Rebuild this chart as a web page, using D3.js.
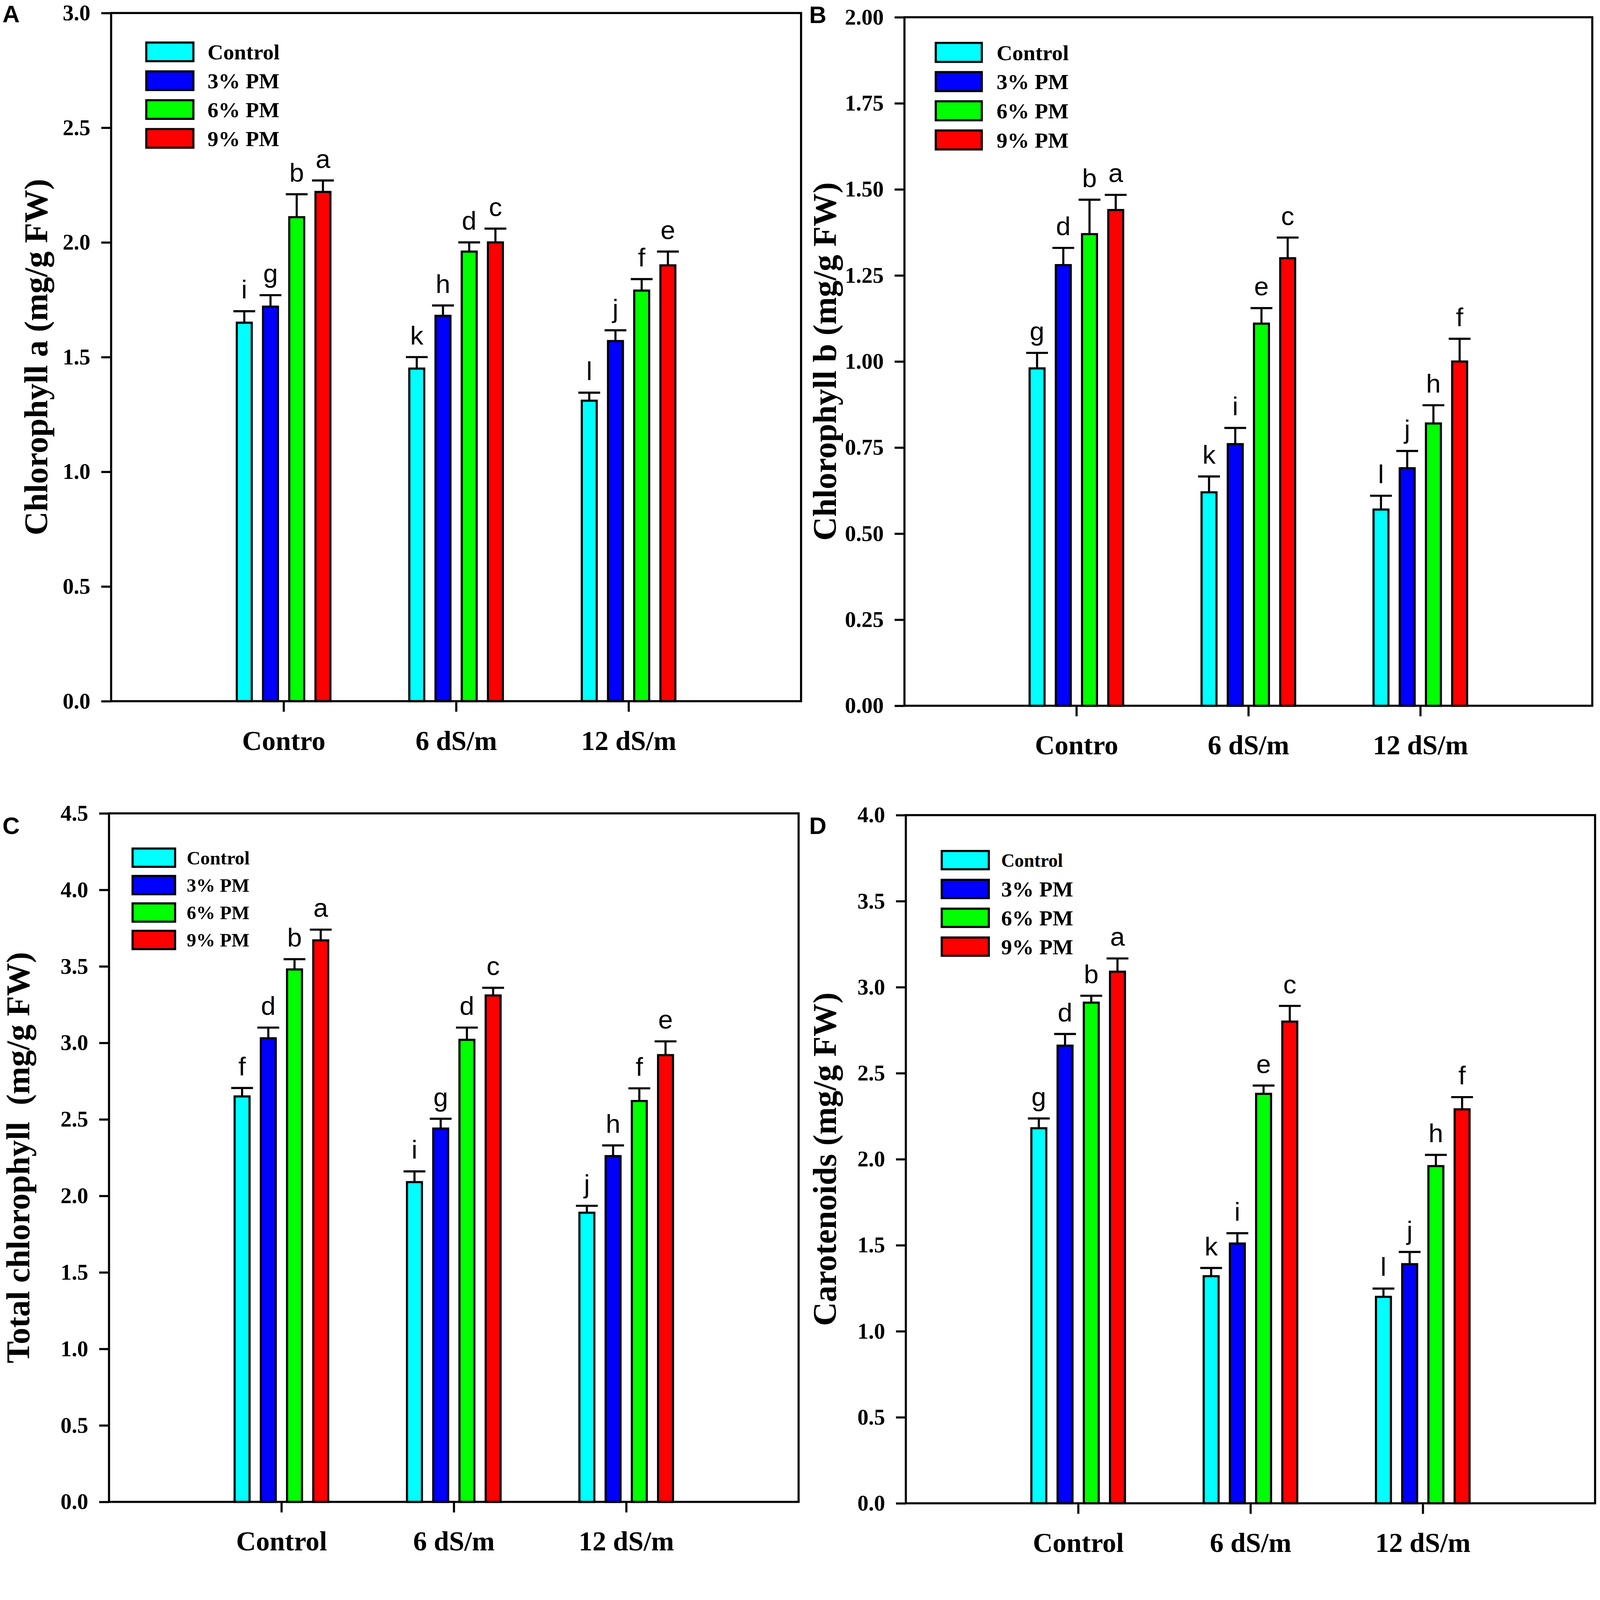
<!DOCTYPE html>
<html>
<head>
<meta charset="utf-8">
<script src="https://cdn.jsdelivr.net/npm/d3@7"></script>
<style>
  html, body { margin: 0; padding: 0; background: #fff; overflow: hidden; }
  #chart svg { display: block; }
</style>
</head>
<body>
<div id="chart"></div>
<script>
// series names and colours
const treatments = ["Control", "3% PM", "6% PM", "9% PM"];
const colors = ["#00FFFF", "#0000FF", "#00FF00", "#FF0000"];

// salinity groups (x categories)
const groupsTop = ["Contro", "6 dS/m", "12 dS/m"];
const groupsBottom = ["Control", "6 dS/m", "12 dS/m"];

// A - Chlorophyll a : means per group (Control, 3%, 6%, 9%)
const chlA = [[1.65, 1.72, 2.11, 2.22], [1.45, 1.68, 1.96, 2.00], [1.31, 1.57, 1.79, 1.90]];
const chlAErr = [[0.05, 0.05, 0.10, 0.05], [0.05, 0.045, 0.04, 0.06], [0.035, 0.047, 0.05, 0.06]];
const chlALetters = [["i", "g", "b", "a"], ["k", "h", "d", "c"], ["l", "j", "f", "e"]];
const chlATicks = [0, 0.5, 1.0, 1.5, 2.0, 2.5, 3.0];

// B - Chlorophyll b
const chlB = [[0.98, 1.28, 1.37, 1.44], [0.62, 0.76, 1.11, 1.30], [0.57, 0.69, 0.82, 1.00]];
const chlBErr = [[0.045, 0.05, 0.10, 0.044], [0.046, 0.047, 0.045, 0.06], [0.04, 0.05, 0.053, 0.066]];
const chlBLetters = [["g", "d", "b", "a"], ["k", "i", "e", "c"], ["l", "j", "h", "f"]];
const chlBTicks = [0, 0.25, 0.5, 0.75, 1.0, 1.25, 1.5, 1.75, 2.0];

// C - Total chlorophyll
const chlT = [[2.65, 3.03, 3.48, 3.67], [2.09, 2.44, 3.02, 3.31], [1.89, 2.26, 2.62, 2.92]];
const chlTErr = [[0.055, 0.07, 0.067, 0.07], [0.07, 0.064, 0.08, 0.05], [0.045, 0.07, 0.083, 0.09]];
const chlTLetters = [["f", "d", "b", "a"], ["i", "g", "d", "c"], ["j", "h", "f", "e"]];
const chlTTicks = [0, 0.5, 1.0, 1.5, 2.0, 2.5, 3.0, 3.5, 4.0, 4.5];

// D - Carotenoids
const carot = [[2.18, 2.66, 2.91, 3.09], [1.32, 1.51, 2.38, 2.80], [1.20, 1.39, 1.96, 2.29]];
const carotErr = [[0.057, 0.068, 0.04, 0.077], [0.048, 0.06, 0.048, 0.091], [0.048, 0.071, 0.065, 0.071]];
const carotLetters = [["g", "d", "b", "a"], ["k", "i", "e", "c"], ["l", "j", "h", "f"]];
const carotTicks = [0, 0.5, 1.0, 1.5, 2.0, 2.5, 3.0, 3.5, 4.0];

// layout (drawn in a 4550 x 4431 coordinate space, scaled to the window)
const W = 4550, H = 4431;
const serif = "'Times New Roman', 'Liberation Serif', serif";
const sans = "Arial, 'Liberation Sans', sans-serif";
const lw = 6;

const panels = [
  { tag: "A", tagX: 7, tagY: 63, box: [316, 37, 2278, 1994], means: chlA, errs: chlAErr, letters: chlALetters,
    ticks: chlATicks, fmt: ".1f", groups: groupsTop, title: "Chlorophyll a (mg/g FW)", titleX: 134,
    legend: { x: 416, y: 121, step: 82, w: 134, h: 53, tx: 590, fonts: [62, 62, 62, 62] } },
  { tag: "B", tagX: 2301, tagY: 66, box: [2572, 49, 4528, 2007], means: chlB, errs: chlBErr, letters: chlBLetters,
    ticks: chlBTicks, fmt: ".2f", groups: groupsTop, title: "Chlorophyll b (mg/g FW)", titleX: 2377,
    legend: { x: 2661, y: 122, step: 83, w: 131, h: 54, tx: 2834, fonts: [62, 62, 62, 62] } },
  { tag: "C", tagX: 7, tagY: 2372, box: [310, 2313, 2271, 4271], means: chlT, errs: chlTErr, letters: chlTLetters,
    ticks: chlTTicks, fmt: ".1f", groups: groupsBottom, title: "Total chlorophyll  (mg/g FW)", titleX: 83,
    legend: { x: 377, y: 2413, step: 78, w: 121, h: 52, tx: 531, fonts: [54, 54, 54, 54] } },
  { tag: "D", tagX: 2301, tagY: 2372, box: [2576, 2318, 4536, 4275], means: carot, errs: carotErr, letters: carotLetters,
    ticks: carotTicks, fmt: ".1f", groups: groupsBottom, title: "Carotenoids (mg/g FW)", titleX: 2377,
    legend: { x: 2678, y: 2420, step: 82, w: 134, h: 52, tx: 2847, fonts: [53, 62, 62, 62] } }
];

const svg = d3.select("#chart").append("svg")
  .attr("viewBox", `0 0 ${W} ${H}`)
  .attr("preserveAspectRatio", "xMinYMin meet")
  .style("width", "100vw")
  .style("height", "100vh")
  .style("background", "#fff");

panels.forEach(p => {
  const [x0, y0, x1, y1] = p.box;
  const g = svg.append("g");

  const y = d3.scaleLinear()
    .domain([0, d3.max(p.ticks)])
    .range([y1, y0]);

  // groups sit at 1/4, 2/4, 3/4 of the width
  const x = d3.scalePoint()
    .domain(p.groups)
    .range([x0, x1])
    .padding(1);

  const inner = d3.scaleBand()
    .domain(treatments)
    .range([-148, 148])
    .paddingInner(0.43)
    .paddingOuter(0.2);

  // axes
  const yAxis = g.append("g")
    .attr("transform", `translate(${x0},0)`)
    .call(d3.axisLeft(y).tickValues(p.ticks).tickFormat(d3.format(p.fmt)).tickSize(28).tickPadding(31));

  const xAxis = g.append("g")
    .attr("transform", `translate(0,${y1})`)
    .call(d3.axisBottom(x).tickSize(30).tickPadding(53));

  [yAxis, xAxis].forEach(a => {
    a.select(".domain").remove();
    a.selectAll(".tick line").attr("stroke", "#000").attr("stroke-width", lw);
    a.selectAll(".tick text")
      .attr("fill", "#000")
      .style("font-family", serif)
      .style("font-weight", "bold");
  });
  yAxis.selectAll(".tick text").style("font-size", "63px");
  xAxis.selectAll(".tick text").style("font-size", "78px");

  // bars
  const rows = [];
  p.means.forEach((vals, gi) => {
    vals.forEach((v, ti) => {
      rows.push({ group: p.groups[gi], t: treatments[ti], ti: ti, v: v, e: p.errs[gi][ti], letter: p.letters[gi][ti] });
    });
  });

  g.selectAll(".bar")
    .data(rows)
    .enter().append("rect")
    .attr("class", "bar")
    .attr("x", d => x(d.group) + inner(d.t))
    .attr("width", inner.bandwidth())
    .attr("y", d => y(d.v))
    .attr("height", d => y(0) - y(d.v))
    .attr("fill", d => colors[d.ti])
    .attr("stroke", "#000")
    .attr("stroke-width", lw);

  // one-sided error bars
  const cx = d => x(d.group) + inner(d.t) + inner.bandwidth() / 2;
  g.selectAll(".err")
    .data(rows)
    .enter().append("line")
    .attr("x1", cx).attr("x2", cx)
    .attr("y1", d => y(d.v)).attr("y2", d => y(d.v + d.e))
    .attr("stroke", "#000").attr("stroke-width", lw);

  g.selectAll(".cap")
    .data(rows)
    .enter().append("line")
    .attr("x1", d => cx(d) - 31).attr("x2", d => cx(d) + 31)
    .attr("y1", d => y(d.v + d.e)).attr("y2", d => y(d.v + d.e))
    .attr("stroke", "#000").attr("stroke-width", lw);

  // significance letters
  g.selectAll(".letter")
    .data(rows)
    .enter().append("text")
    .attr("x", cx)
    .attr("y", d => y(d.v + d.e) - 36)
    .attr("text-anchor", "middle")
    .style("font-family", sans)
    .style("font-size", "75px")
    .text(d => d.letter);

  // frame
  g.append("rect")
    .attr("x", x0).attr("y", y0)
    .attr("width", x1 - x0).attr("height", y1 - y0)
    .attr("fill", "none")
    .attr("stroke", "#000")
    .attr("stroke-width", lw);

  // legend
  const lg = p.legend;
  const items = g.selectAll(".leg")
    .data(treatments)
    .enter().append("g")
    .attr("transform", (d, i) => `translate(0,${lg.y + i * lg.step})`);

  items.append("rect")
    .attr("x", lg.x).attr("y", 0)
    .attr("width", lg.w).attr("height", lg.h)
    .attr("fill", (d, i) => colors[i])
    .attr("stroke", "#000")
    .attr("stroke-width", lw);

  items.append("text")
    .attr("x", lg.tx)
    .attr("y", lg.h / 2)
    .attr("dy", "0.35em")
    .style("font-family", serif)
    .style("font-weight", "bold")
    .style("font-size", (d, i) => lg.fonts[i] + "px")
    .text(d => d);

  // y title
  g.append("text")
    .attr("transform", `translate(${p.titleX},${(y0 + y1) / 2}) rotate(-90)`)
    .attr("text-anchor", "middle")
    .style("font-family", serif)
    .style("font-weight", "bold")
    .style("font-size", "94px")
    .style("white-space", "pre")
    .text(p.title);

  // panel tag
  svg.append("text")
    .attr("x", p.tagX)
    .attr("y", p.tagY)
    .style("font-family", sans)
    .style("font-weight", "bold")
    .style("font-size", "68px")
    .text(p.tag);
});
</script>
</body>
</html>
